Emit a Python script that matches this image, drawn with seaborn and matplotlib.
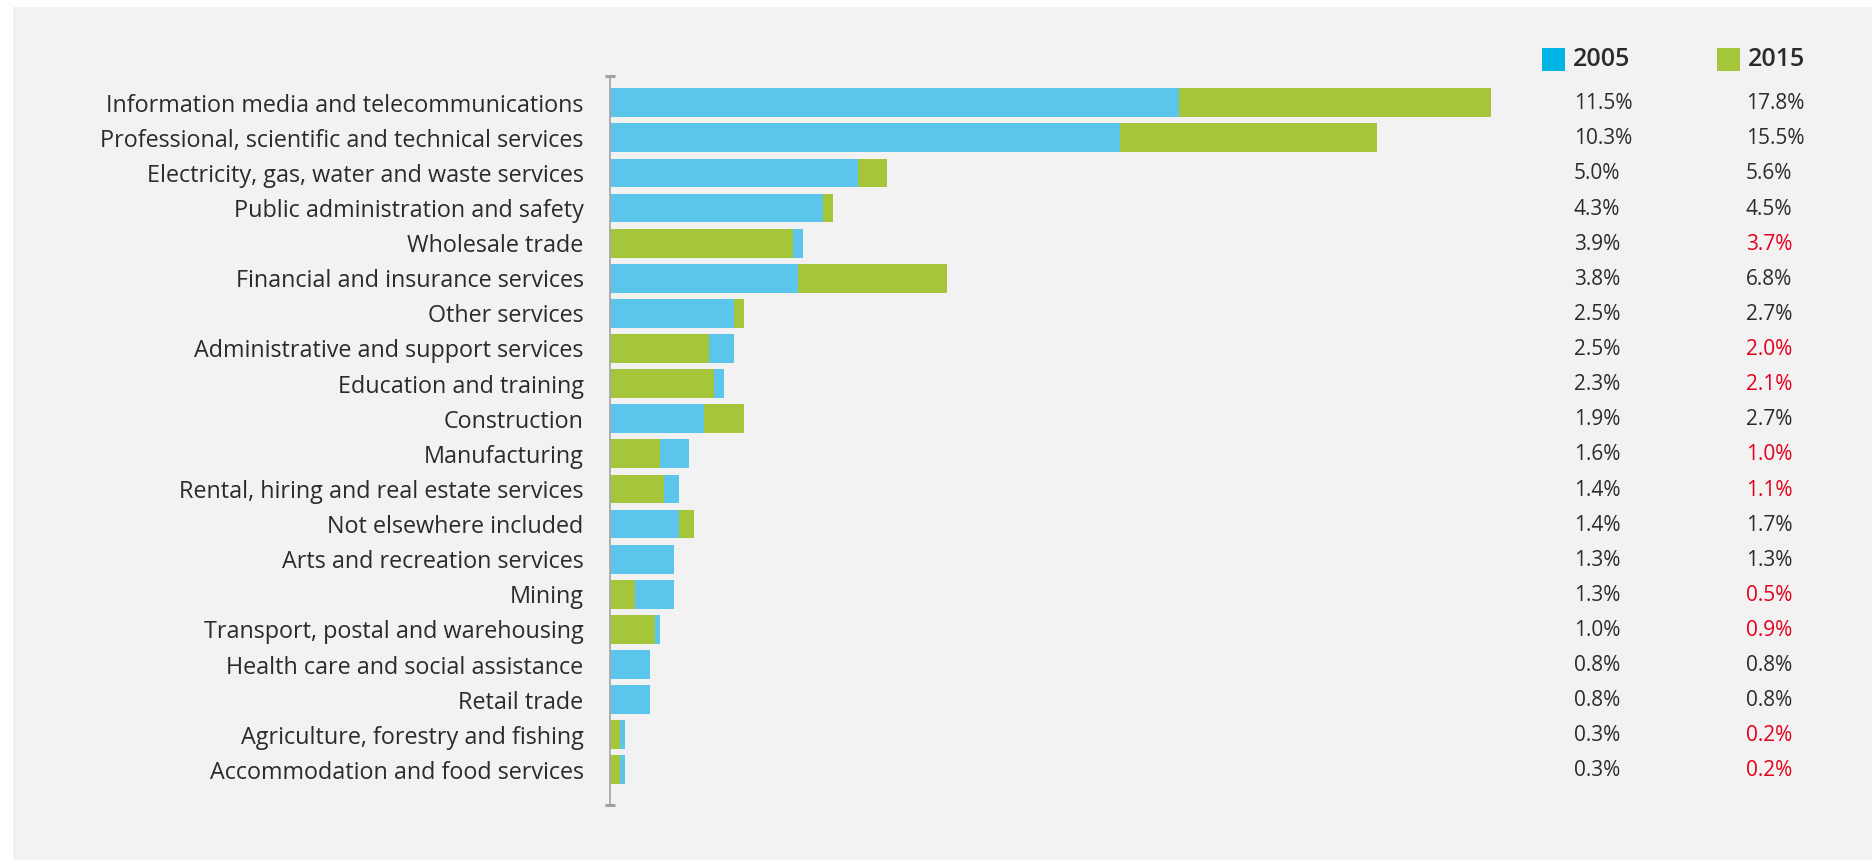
import matplotlib
matplotlib.use("Agg")
import matplotlib.pyplot as plt
import matplotlib.transforms as mtransforms
from matplotlib.patches import Rectangle
import seaborn as sns
import pandas as pd
import numpy as np

categories = [
    "Information media and telecommunications",
    "Professional, scientific and technical services",
    "Electricity, gas, water and waste services",
    "Public administration and safety",
    "Wholesale trade",
    "Financial and insurance services",
    "Other services",
    "Administrative and support services",
    "Education and training",
    "Construction",
    "Manufacturing",
    "Rental, hiring and real estate services",
    "Not elsewhere included",
    "Arts and recreation services",
    "Mining",
    "Transport, postal and warehousing",
    "Health care and social assistance",
    "Retail trade",
    "Agriculture, forestry and fishing",
    "Accommodation and food services",
]
values_2005 = [11.5, 10.3, 5.0, 4.3, 3.9, 3.8, 2.5, 2.5, 2.3, 1.9,
               1.6, 1.4, 1.4, 1.3, 1.3, 1.0, 0.8, 0.8, 0.3, 0.3]
values_2015 = [17.8, 15.5, 5.6, 4.5, 3.7, 6.8, 2.7, 2.0, 2.1, 2.7,
               1.0, 1.1, 1.7, 1.3, 0.5, 0.9, 0.8, 0.8, 0.2, 0.2]
years = ["2005", "2015"]

BLUE_BAR = "#5bc5ec"
GREEN_BAR = "#a5c63b"
BLUE_KEY = "#00b5e4"
GREEN_KEY = "#a5c63b"
RED = "#e3001b"
TEXT = "#2b2b2b"
PANEL = "#f2f2f2"

df = pd.DataFrame({"category": categories, "v2005": values_2005, "v2015": values_2015})

sns.set_theme(style="white")
plt.rcParams["font.family"] = ["Open Sans", "DejaVu Sans"]

W, H = 1872, 860
fig = plt.figure(figsize=(W / 100, H / 100), dpi=100)
fig.patch.set_facecolor("white")
fig.patches.append(Rectangle((13 / W, 0), 1 - 13 / W, 1 - 7 / H,
                             transform=fig.transFigure, facecolor=PANEL,
                             edgecolor="none", zorder=-10))

ax = fig.add_axes([610 / W, 1 - 805 / H, (1501 - 610) / W, (805 - 76) / H])
ax.set_facecolor("none")

sns.barplot(data=df, x="v2015", y="category", order=categories, color=GREEN_BAR,
            saturation=1, width=0.82, ax=ax, orient="h")
sns.barplot(data=df, x="v2005", y="category", order=categories, color=BLUE_BAR,
            saturation=1, width=0.82, ax=ax, orient="h")
# shorter bar drawn in front
for p in ax.patches:
    p.set_zorder(3 - p.get_width() / 100.0)
    p.set_edgecolor("none")

ax.set_xlim(0, 18)
ax.set_ylim(20.0, -0.76)
ax.set_xlabel("")
ax.set_ylabel("")
ax.set_xticks([])
for s in ["top", "right", "bottom"]:
    ax.spines[s].set_visible(False)
ax.spines["left"].set_color("#a8a8a8")
ax.spines["left"].set_linewidth(1.3)
ax.spines["left"].set_zorder(5)

ax.tick_params(axis="y", which="major", length=0, pad=19, labelsize=16.8, labelcolor=TEXT)
ax.set_yticks(np.arange(len(categories)) + 0.5, minor=True)
ax.tick_params(axis="y", which="minor", direction="inout", length=6.5, width=1.0,
               color="#c2c2c2")
# end caps on the axis
ylo, yhi = ax.get_ylim()
ax.plot([0, 0], [yhi, ylo], linestyle="none", marker="_", markersize=7,
        markeredgewidth=2.2, color="#a0a0a0", clip_on=False, zorder=6)

# value columns
trans = mtransforms.blended_transform_factory(fig.transFigure, ax.transData)
for i, (a, b) in enumerate(zip(values_2005, values_2015)):
    ax.text(1574 / W, i + 0.03, f"{a:.1f}%", transform=trans, ha="left", va="center",
            fontsize=15, color=TEXT)
    ax.text(1746 / W, i + 0.03, f"{b:.1f}%", transform=trans, ha="left", va="center",
            fontsize=15, color=RED if b < a else TEXT)

# legend keys
for x0, col, lab in [(1542, BLUE_KEY, years[0]), (1717, GREEN_KEY, years[1])]:
    fig.patches.append(Rectangle((x0 / W, 1 - 71 / H), 23 / W, 23 / H,
                                 transform=fig.transFigure, facecolor=col,
                                 edgecolor="none"))
    fig.text((x0 + 31) / W, 1 - 60 / H, lab, ha="left", va="center",
             fontsize=18, fontweight="semibold", color=TEXT)

fig.savefig("out.png", dpi=100, facecolor=fig.get_facecolor())
